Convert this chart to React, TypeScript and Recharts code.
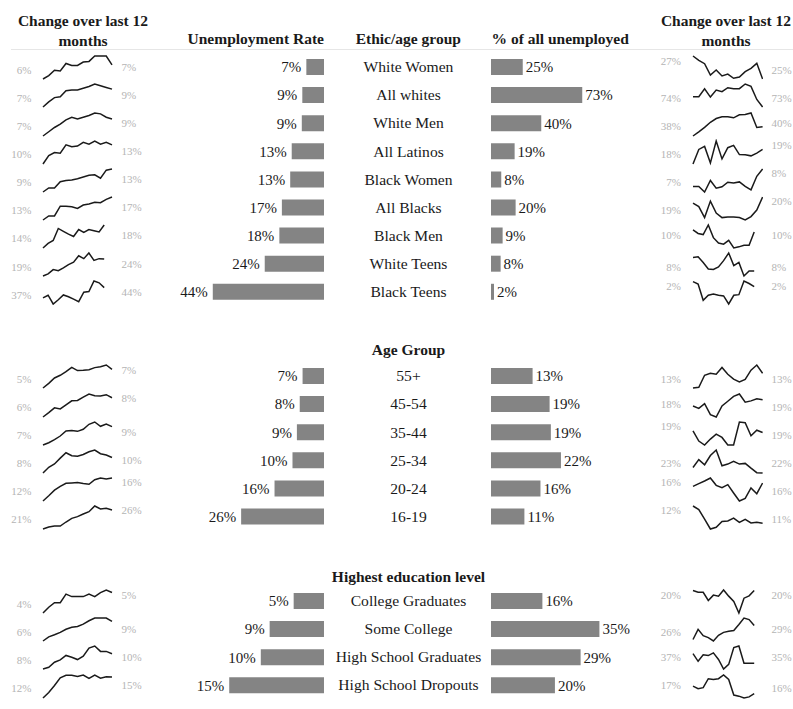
import React from 'react';
import { BarChart, Bar, XAxis, YAxis, LabelList, LineChart, Line } from 'recharts';

// ---------- DATA ----------
const ethnicGroups = ['White Women', 'All whites', 'White Men', 'All Latinos', 'Black Women', 'All Blacks', 'Black Men', 'White Teens', 'Black Teens'];
const ethnicRate = [7.0, 8.6, 8.8, 12.8, 13.4, 16.7, 17.7, 23.5, 44.1];
const ethnicShare = [25.4, 73.0, 40.2, 18.9, 8.2, 19.7, 9.3, 7.7, 2.4];
const ethnicRateTrend = [
  [6.0, 6.25, 6.65, 6.6, 7.15, 7.0, 7.0, 7.25, 7.3, 7.7, 7.7, 7.7, 7.05],
  [7.0, 7.6, 8.1, 8.2, 8.9, 9.0, 9.0, 9.2, 9.4, 9.7, 9.5, 9.3, 9.1],
  [7.0, 7.5, 8.0, 8.4, 8.9, 9.2, 9.0, 9.2, 9.4, 9.7, 9.6, 9.2, 9.0],
  [10.0, 11.3, 11.8, 11.7, 13.0, 12.7, 12.8, 13.4, 13.1, 13.6, 13.1, 13.4, 13.0],
  [9.0, 9.7, 9.7, 10.8, 11.0, 11.1, 11.3, 11.6, 11.9, 12.0, 11.4, 12.8, 13.0],
  [13.0, 13.7, 13.7, 15.4, 15.4, 15.3, 15.0, 15.6, 15.8, 16.1, 16.0, 16.6, 17.0],
  [14.0, 14.8, 15.3, 17.4, 16.9, 16.4, 16.0, 17.2, 16.7, 17.2, 17.0, 16.8, 18.0],
  [19.0, 19.6, 20.8, 20.5, 21.3, 22.2, 22.9, 24.7, 23.9, 25.5, 23.4, 23.9, 23.8],
  [37.0, 38.8, 33.0, 35.8, 39.0, 37.8, 36.2, 34.5, 40.8, 41.2, 48.2, 47.0, 43.8],
];
const ethnicShareTrend = [
  [27.0, 26.62, 26.33, 25.35, 25.78, 25.26, 25.43, 25.06, 25.17, 25.64, 25.93, 26.36, 25.0],
  [74.0, 74.0, 74.79, 73.97, 74.66, 74.5, 74.89, 74.79, 74.79, 75.25, 75.02, 73.74, 73.0],
  [38.0, 38.89, 39.85, 40.96, 41.77, 42.14, 42.14, 41.92, 42.59, 42.66, 42.96, 39.85, 40.0],
  [18.0, 19.0, 19.21, 18.07, 19.58, 18.35, 19.12, 19.28, 18.65, 18.63, 18.56, 18.75, 19.0],
  [7.0, 7.0, 6.68, 7.34, 6.9, 6.98, 7.24, 7.2, 7.26, 7.0, 6.8, 7.58, 8.0],
  [19.2, 18.9, 17.94, 19.38, 18.33, 17.94, 18.0, 18.0, 17.94, 17.73, 18.03, 18.6, 19.74],
  [10.2, 9.93, 9.84, 10.59, 9.6, 9.18, 9.09, 9.39, 8.79, 8.88, 9.0, 9.0, 10.05],
  [8.3, 8.33, 8.08, 7.79, 7.77, 7.88, 8.16, 8.5, 7.94, 8.08, 7.48, 7.7, 7.7],
  [2.3, 2.22, 1.7, 1.86, 1.9, 1.86, 1.84, 1.58, 1.86, 1.88, 2.32, 2.24, 2.14],
];

const ageGroups = ['55+', '45-54', '35-44', '25-34', '20-24', '16-19'];
const ageRate = [6.8, 7.7, 8.6, 10.0, 15.7, 26.3];
const ageShare = [13.2, 18.6, 19.0, 22.2, 15.7, 10.6];
const ageRateTrend = [
  [5.0, 5.5, 6.07, 6.36, 6.75, 7.21, 6.86, 6.89, 6.96, 7.18, 7.28, 7.46, 7.0],
  [6.0, 6.46, 6.95, 6.84, 7.26, 7.68, 7.72, 8.07, 8.39, 8.21, 8.18, 8.32, 8.0],
  [7.0, 7.25, 7.58, 7.98, 8.53, 8.57, 8.49, 8.71, 9.26, 9.51, 9.04, 9.29, 9.0],
  [8.0, 8.74, 9.17, 9.91, 10.61, 10.22, 10.17, 10.39, 10.74, 10.96, 10.48, 10.31, 10.0],
  [12.0, 12.91, 13.88, 14.55, 15.09, 15.15, 15.21, 15.03, 14.91, 15.7, 16.0, 15.82, 16.0],
  [21.0, 21.53, 21.79, 21.79, 22.84, 23.81, 24.25, 24.95, 25.56, 27.05, 26.26, 26.44, 26.0],
];
const ageShareTrend = [
  [12.7, 12.73, 13.22, 13.3, 13.26, 13.54, 13.26, 13.06, 12.95, 13.05, 13.43, 13.64, 13.3],
  [18.2, 18.06, 18.34, 17.7, 17.56, 18.2, 18.48, 18.76, 18.9, 18.42, 18.5, 18.62, 18.56],
  [19.0, 18.38, 18.14, 18.5, 18.8, 18.6, 18.14, 18.14, 19.54, 19.5, 18.7, 19.04, 18.9],
  [22.6, 23.06, 22.76, 23.3, 23.62, 22.7, 22.8, 22.96, 22.8, 22.84, 22.56, 22.3, 22.28],
  [16.0, 16.16, 16.32, 16.5, 16.06, 15.92, 16.1, 15.6, 15.12, 15.28, 15.9, 15.56, 16.2],
  [11.7, 11.57, 11.23, 10.87, 10.93, 11.14, 11.16, 11.26, 11.11, 11.22, 11.09, 11.11, 11.08],
];

const eduGroups = ['College Graduates', 'Some College', 'High School Graduates', 'High School Dropouts'];
const eduRate = [4.8, 8.6, 10.0, 15.0];
const eduShare = [16.4, 34.6, 28.6, 20.4];
const eduRateTrend = [
  [4.1, 4.38, 4.6, 4.6, 5.02, 4.9, 4.9, 4.9, 5.02, 4.9, 5.09, 5.22, 5.1],
  [6.0, 6.63, 6.95, 7.32, 7.79, 8.1, 8.21, 8.58, 9.1, 9.52, 9.52, 9.52, 9.0],
  [8.0, 8.22, 8.89, 9.2, 9.78, 9.55, 9.24, 9.69, 10.75, 11.02, 10.31, 10.31, 10.0],
  [12.0, 12.8, 13.8, 14.9, 15.25, 15.25, 15.1, 15.3, 14.8, 15.3, 14.85, 15.05, 15.0],
];
const eduShareTrend = [
  [20.0, 19.93, 19.93, 19.61, 19.82, 19.78, 20.02, 19.78, 19.57, 19.12, 19.7, 19.79, 20.0],
  [26.0, 28.19, 26.81, 26.41, 25.68, 26.89, 27.54, 27.78, 27.94, 29.24, 30.62, 30.29, 29.0],
  [37.0, 35.4, 36.76, 36.6, 37.16, 35.8, 33.8, 34.76, 38.28, 38.6, 35.0, 35.0, 35.0],
  [17.0, 16.72, 16.84, 17.8, 17.72, 17.8, 18.2, 17.72, 16.04, 15.92, 15.72, 15.84, 16.2],
];

const headerTrend = 'Change over last 12';
const headerTrend2 = 'months';
const headerRate = 'Unemployment Rate';
const headerGroup = 'Ethic/age group';
const headerShare = '% of all unemployed';
const titleAge = 'Age Group';
const titleEdu = 'Highest education level';

// ---------- LAYOUT (not data) ----------
const FONT = '"Liberation Serif", "Times New Roman", serif';
const ROW0 = 66.8;
const ROW_H = 28.1;
const rowY = (k: number) => ROW0 + ROW_H * k;
const NUDGE: Record<string, number> = { T: -6, M: 0, B: 3 };

const ethnicRateShort = [0, 0, 0, 0, 0, 0, 1, 1, 1];
const ethnicShareShort = [0, 0, 0, 0, 0, 0, 1, 1, 1];
const ageShort = [0, 0, 0, 0, 0, 0];
const eduRateShort = [0, 0, 0, 0];
const eduShareShort = [1, 1, 1, 1];

const sections = [
  {
    start: 0, names: ethnicGroups, rate: ethnicRate, share: ethnicShare,
    rateTrend: ethnicRateTrend, shareTrend: ethnicShareTrend, rateMax: 45.6, shareMax: 92,
    rateShort: ethnicRateShort, shareShort: ethnicShareShort,
    rateL: 'BBBBBBBBB', rateR: 'MMMMMMMMM', shareL: 'TBBBBBMBT', shareR: 'BBMTTTMBT',
  },
  {
    start: 11, names: ageGroups, rate: ageRate, share: ageShare,
    rateTrend: ageRateTrend, shareTrend: ageShareTrend, rateMax: 36.5, shareMax: 36.5,
    rateShort: ageShort, shareShort: ageShort,
    rateL: 'BBBBBB', rateR: 'TTMMTT', shareL: 'BMTBTT', shareR: 'BBBBBB',
  },
  {
    start: 19, names: eduGroups, rate: eduRate, share: eduShare,
    rateTrend: eduRateTrend, shareTrend: eduShareTrend, rateMax: 18.2, shareMax: 36.7,
    rateShort: eduRateShort, shareShort: eduShareShort,
    rateL: 'BBBB', rateR: 'TMMM', shareL: 'TBMM', shareR: 'TMMB',
  },
];

const pct = (v: number) => `${Math.round(v)}%`;

function Txt({ x, y, w = 300, align = 'left', size = 15.6, bold = false, color = '#1a1a1a', children }: any) {
  const left = align === 'right' ? x - w : align === 'center' ? x - w / 2 : x;
  return (
    <div
      style={{
        position: 'absolute', left, top: y - size, width: w, height: size * 2,
        lineHeight: `${size * 2}px`, textAlign: align, fontSize: size,
        fontWeight: bold ? 700 : 400, color, whiteSpace: 'nowrap', fontFamily: FONT,
      }}
    >
      {children}
    </div>
  );
}

function Spark({ values, left, width, cy }: any) {
  const data = values.map((v: number, i: number) => ({ i, v }));
  return (
    <div style={{ position: 'absolute', left: left - 1, top: cy + 1 - 13.5 }}>
      <LineChart width={width + 2} height={27} data={data} margin={{ top: 2, bottom: 2, left: 1, right: 1 }}>
        <XAxis type="number" dataKey="i" domain={[0, values.length - 1]} hide />
        <YAxis type="number" domain={['dataMin', 'dataMax']} hide />
        <Line type="linear" dataKey="v" stroke="#1a1a1a" strokeWidth={1.5} dot={false} isAnimationActive={false} />
      </LineChart>
    </div>
  );
}

function BarPanel({ names, values, domainMax, side, startRow }: any) {
  const n = names.length;
  const data = names.map((name: string, i: number) => ({ name, v: values[i] }));
  const plotW = 115;
  const labelW = 62;
  const height = n * ROW_H;
  const top = rowY(startRow) - ROW_H / 2;
  const isLeft = side === 'left';
  const left = isLeft ? 323.5 - plotW - labelW : 490.7;
  return (
    <div style={{ position: 'absolute', left, top }}>
      <BarChart
        layout="vertical"
        width={plotW + labelW}
        height={height}
        data={data}
        barCategoryGap={0}
        margin={isLeft ? { top: 0, bottom: 0, left: labelW, right: 0 } : { top: 0, bottom: 0, left: 0, right: labelW }}
      >
        <XAxis type="number" domain={[0, domainMax]} reversed={isLeft} hide allowDataOverflow />
        <YAxis type="category" dataKey="name" hide />
        <Bar dataKey="v" barSize={16} fill="#848484" isAnimationActive={false}>
          <LabelList
            dataKey="v"
            position="right"
            offset={isLeft ? 5 : 3}
            formatter={(v: any) => pct(Number(v))}
            fill="#1a1a1a"
            fontSize={15}
            fontFamily={FONT}
          />
        </Bar>
      </BarChart>
    </div>
  );
}

function TrendColumn({ trends, shortFlags, lAlign, rAlign, startRow, col }: any) {
  const isLeft = col === 'left';
  const lineLeft = isLeft ? 43.3 : 692.7;
  const fullW = isLeft ? 69 : 69.6;
  const shortW = 61.2;
  const lblRightEdge = isLeft ? 31.5 : 681;
  const lblLeftEdge = isLeft ? 121.5 : 771.5;
  return (
    <>
      {trends.map((vals: number[], k: number) => {
        const cy = rowY(startRow + k);
        return (
          <React.Fragment key={k}>
            <Spark values={vals} left={lineLeft} width={shortFlags[k] ? shortW : fullW} cy={cy} />
            <Txt x={lblRightEdge} y={cy + NUDGE[lAlign[k]]} w={40} align="right" size={11} color="#b4b4b4">
              {pct(vals[0])}
            </Txt>
            <Txt x={lblLeftEdge} y={cy + NUDGE[rAlign[k]]} w={40} align="left" size={11} color="#b4b4b4">
              {pct(vals[vals.length - 1])}
            </Txt>
          </React.Fragment>
        );
      })}
    </>
  );
}

export default function App() {
  return (
    <div
      style={{
        position: 'absolute', left: 0, top: 0, width: 793, height: 709,
        background: '#ffffff', overflow: 'hidden', fontFamily: FONT,
      }}
    >
      {/* headers */}
      <Txt x={83} y={20} w={200} align="center" size={15.5} bold>{headerTrend}</Txt>
      <Txt x={83} y={40.7} w={200} align="center" size={15.5} bold>{headerTrend2}</Txt>
      <Txt x={726} y={20} w={200} align="center" size={15.5} bold>{headerTrend}</Txt>
      <Txt x={726} y={40.7} w={200} align="center" size={15.5} bold>{headerTrend2}</Txt>
      <Txt x={324} y={38.5} w={200} align="right" size={15.5} bold>{headerRate}</Txt>
      <Txt x={408.3} y={38.5} w={200} align="center" size={15.5} bold>{headerGroup}</Txt>
      <Txt x={491.5} y={38.5} w={200} align="left" size={15.5} bold>{headerShare}</Txt>
      <div style={{ position: 'absolute', left: 11, top: 48.5, width: 782, height: 1, background: '#e6e6e6' }} />

      <Txt x={408.5} y={349} w={300} align="center" size={15.5} bold>{titleAge}</Txt>
      <Txt x={408.5} y={576.3} w={300} align="center" size={15.5} bold>{titleEdu}</Txt>

      {sections.map((s, si) => (
        <React.Fragment key={si}>
          <BarPanel names={s.names} values={s.rate} domainMax={s.rateMax} side="left" startRow={s.start} />
          <BarPanel names={s.names} values={s.share} domainMax={s.shareMax} side="right" startRow={s.start} />
          {s.names.map((nm: string, k: number) => (
            <Txt key={nm} x={408.5} y={rowY(s.start + k)} w={240} align="center" size={15.6}>{nm}</Txt>
          ))}
          <TrendColumn trends={s.rateTrend} shortFlags={s.rateShort} lAlign={s.rateL} rAlign={s.rateR} startRow={s.start} col="left" />
          <TrendColumn trends={s.shareTrend} shortFlags={s.shareShort} lAlign={s.shareL} rAlign={s.shareR} startRow={s.start} col="right" />
        </React.Fragment>
      ))}
    </div>
  );
}
